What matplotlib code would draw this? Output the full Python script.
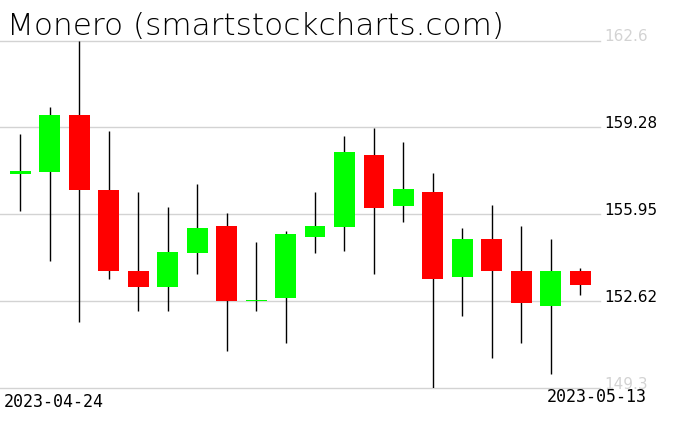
import pandas as pd
import matplotlib
matplotlib.use('Agg')
import matplotlib.pyplot as plt

# Monero daily candles
dates = pd.date_range('2023-04-24', '2023-05-13', freq='D')
opens = [157.51, 157.58, 159.75, 156.90, 153.77, 153.18, 154.48, 155.51, 152.62, 152.75,
         155.10, 155.48, 158.22, 156.27, 156.81, 153.57, 155.01, 153.77, 152.46, 153.77]
highs = [159.02, 160.06, 162.60, 159.14, 156.81, 156.23, 157.11, 156.00, 154.89, 155.31,
         156.81, 158.95, 159.25, 158.72, 157.53, 155.43, 156.31, 155.51, 155.01, 153.90]
lows = [156.09, 154.18, 151.85, 153.49, 152.27, 152.27, 153.68, 150.74, 152.27, 151.04,
        154.48, 154.56, 153.68, 155.67, 149.30, 152.08, 150.47, 151.04, 149.86, 152.88]
closes = [157.61, 159.75, 156.90, 153.77, 153.18, 154.51, 155.43, 152.65, 152.66, 155.20,
          155.51, 158.35, 156.21, 156.92, 153.49, 155.01, 153.77, 152.57, 153.77, 153.26]

y_ticks = [149.3, 152.62, 155.95, 159.28, 162.6]
title = 'Monero (smartstockcharts.com)'

df = pd.DataFrame({'Open': opens, 'High': highs, 'Low': lows, 'Close': closes}, index=dates)

fig = plt.figure(figsize=(6.76, 4.31), dpi=100)
ax = fig.add_axes([0, 1 - 389.3 / 431, 600 / 676, (389.3 - 41.5) / 431])

x = range(len(df))
up = df['Close'] >= df['Open']
colors = ['#00ff00' if u else '#ff0000' for u in up]
bottoms = df[['Open', 'Close']].min(axis=1)
heights = (df['Close'] - df['Open']).abs().clip(lower=0.04)

# wicks first, bodies on top
ax.vlines(x, df['Low'], df['High'], color='black', linewidth=1.0, zorder=2)
ax.bar(x, heights, bottom=bottoms, width=0.71, color=colors, linewidth=0, zorder=3)

for t in y_ticks:
    ax.axhline(t, color='#d3d3d3', linewidth=1.0, zorder=1, clip_on=False)
    c = '#d3d3d3' if t in (y_ticks[0], y_ticks[-1]) else 'black'
    ax.text(1.008, t, f'{t:g}', transform=ax.get_yaxis_transform(), color=c,
            fontsize=11, va='baseline', ha='left')

ax.set_xlim(-0.69, 19.67)
ax.set_ylim(149.3, 162.6)
ax.axis('off')

# thin title, sized to the reference width
ttl = fig.text(7 / 676, 1 - 35 / 431, title, fontsize=22, color='black',
               family='DejaVu Sans', fontweight='light',
               va='baseline', ha='left')
fig.canvas.draw()
w = ttl.get_window_extent().width
ttl.set_fontsize(22 * 498 / w)

fig.text(4 / 676, 1 - 407 / 431, dates[0].strftime('%Y-%m-%d'),
         family='DejaVu Sans Mono', fontsize=12, va='baseline', ha='left')
fig.text(647 / 676, 1 - 402 / 431, dates[-1].strftime('%Y-%m-%d'),
         family='DejaVu Sans Mono', fontsize=12, va='baseline', ha='right')

fig.savefig('out.png', dpi=100)
plt.close(fig)
